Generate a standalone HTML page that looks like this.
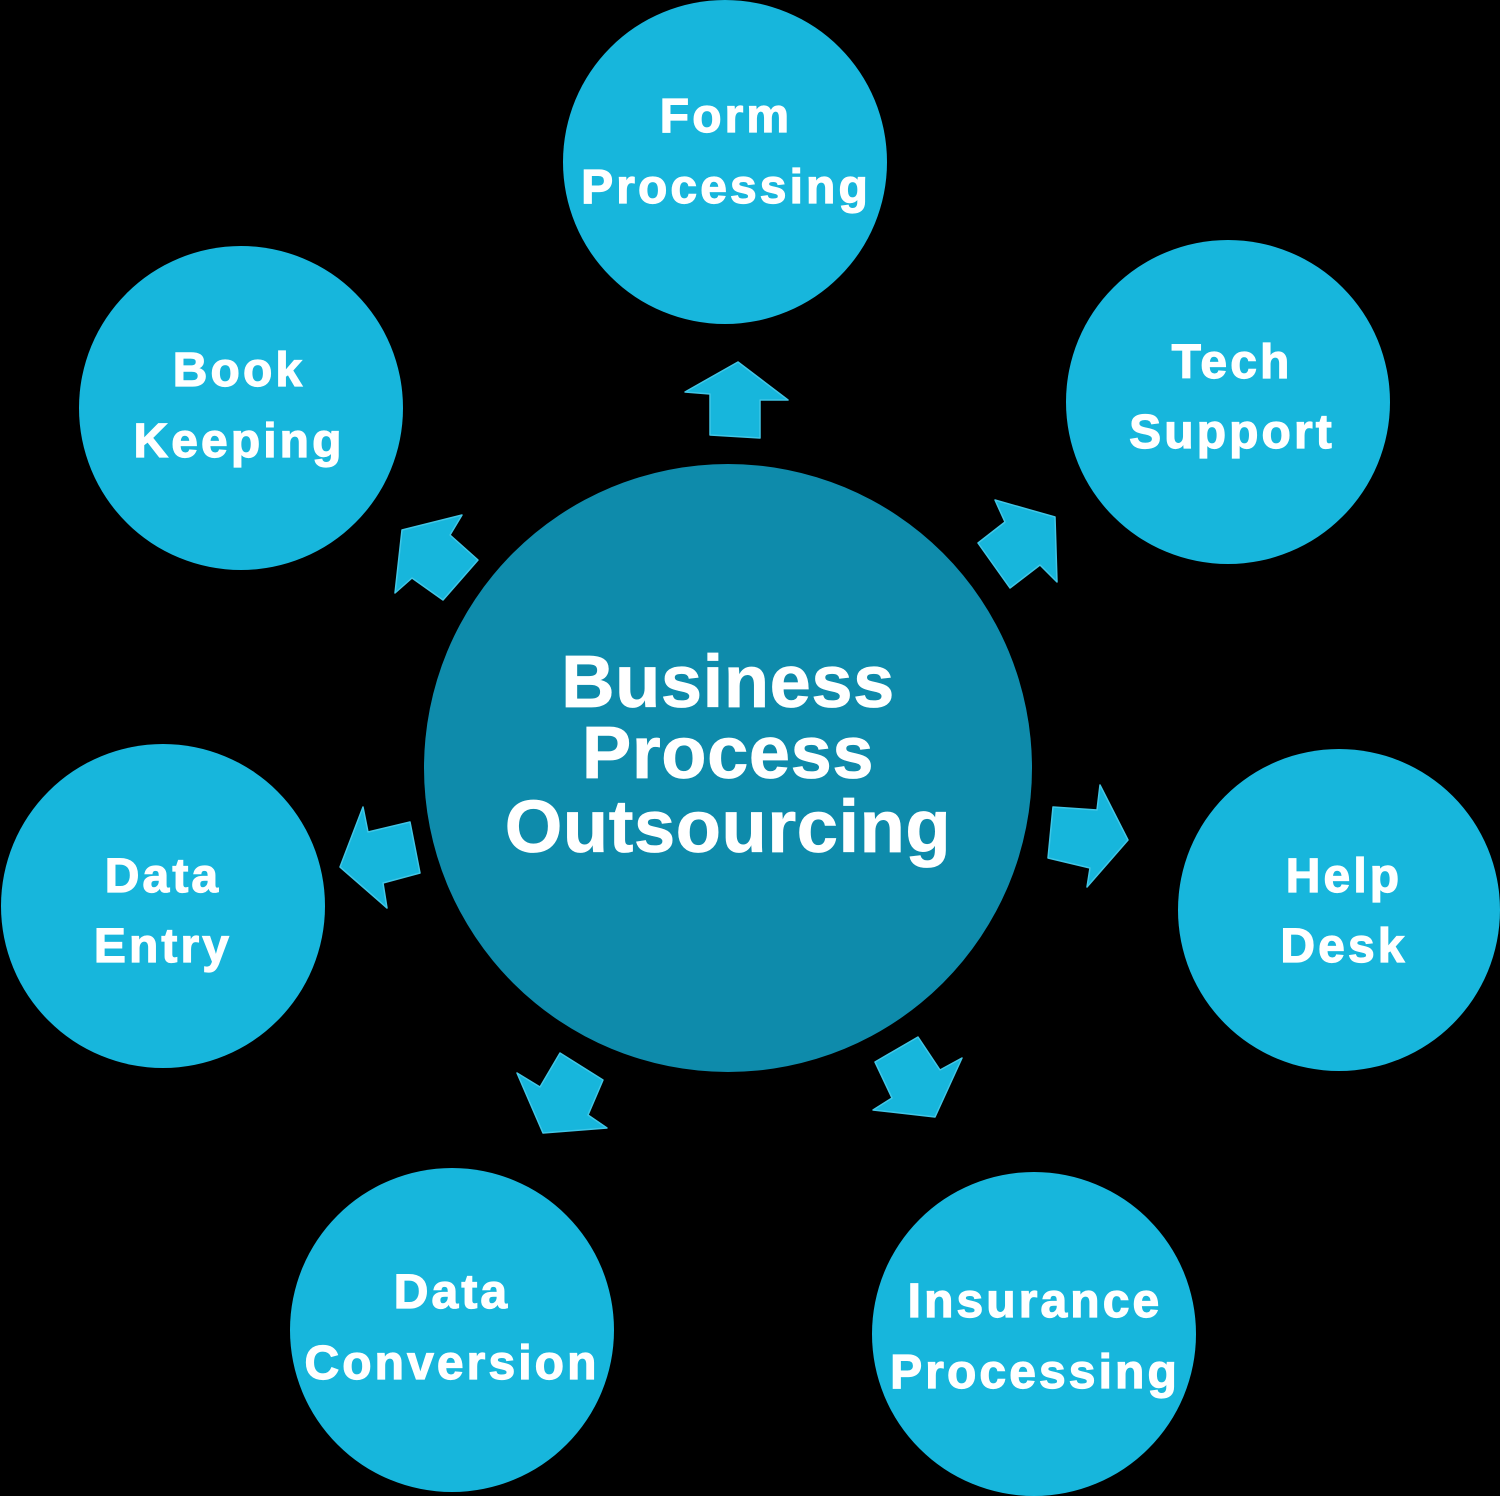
<!DOCTYPE html>
<html>
<head>
<meta charset="utf-8">
<style>
  html, body { margin:0; padding:0; background:#000; }
  body { width:1500px; height:1496px; overflow:hidden; }
  svg { display:block; }
  text { font-family: "Liberation Sans", Arial, sans-serif; font-weight:bold; fill:#fff; }
  .o { font-size:48px; letter-spacing:3.1px; stroke:#fff; stroke-width:1.2px; }
  .c { font-size:74px; letter-spacing:0.6px; stroke:#fff; stroke-width:0.8px; }
</style>
</head>
<body>
<svg width="1500" height="1496" viewBox="0 0 1500 1496" xmlns="http://www.w3.org/2000/svg">
  <rect width="1500" height="1496" fill="#000"/>

  <!-- outer circles -->
  <g fill="#17B6DC">
    <circle cx="725" cy="162" r="162"/>
    <circle cx="1228" cy="402" r="162"/>
    <circle cx="241" cy="408" r="162"/>
    <circle cx="163" cy="906" r="162"/>
    <circle cx="1339" cy="910" r="161"/>
    <circle cx="452" cy="1330" r="162"/>
    <circle cx="1034" cy="1334" r="162"/>
  </g>

  <!-- center circle -->
  <circle cx="728" cy="768" r="304" fill="#0E8BAB"/>

  <!-- arrows -->
  <g fill="#17B6DC" stroke="#3fc6e6" stroke-width="1.5" stroke-linejoin="round">
    <polygon points="738,362 788,400 760,400 760,438 710,435 710,394 685,392"/>
    <polygon points="995,500 1055,517 1057,582 1040,565 1010,588 978,543 1005,522"/>
    <polygon points="462,515 402,530 395,593 412,578 443,600 478,560 450,535"/>
    <polygon points="363,807 340,867 387,908 383,883 420,873 410,822 368,832"/>
    <polygon points="1053,807 1097,810 1100,785 1128,840 1087,887 1090,868 1048,858"/>
    <polygon points="560,1053 603,1080 588,1115 607,1128 543,1133 517,1073 540,1087"/>
    <polygon points="875,1062 918,1037 940,1070 962,1058 935,1117 873,1110 892,1098"/>
  </g>

  <!-- outer labels -->
  <g text-anchor="middle">
    <text class="o" x="726" y="132">Form</text>
    <text class="o" x="726" y="203">Processing</text>

    <text class="o" x="1232" y="378">Tech</text>
    <text class="o" x="1232" y="448">Support</text>

    <text class="o" x="239" y="386">Book</text>
    <text class="o" x="239" y="457">Keeping</text>

    <text class="o" x="163" y="892">Data</text>
    <text class="o" x="163" y="962">Entry</text>

    <text class="o" x="1344" y="892">Help</text>
    <text class="o" x="1344" y="962">Desk</text>

    <text class="o" x="452" y="1308">Data</text>
    <text class="o" x="452" y="1379">Conversion</text>

    <text class="o" x="1035" y="1317">Insurance</text>
    <text class="o" x="1035" y="1388">Processing</text>
  </g>

  <!-- center label -->
  <g text-anchor="middle">
    <text class="c" x="728" y="707">Business</text>
    <text class="c" x="728" y="778">Process</text>
    <text class="c" x="728" y="852">Outsourcing</text>
  </g>
</svg>
</body>
</html>
